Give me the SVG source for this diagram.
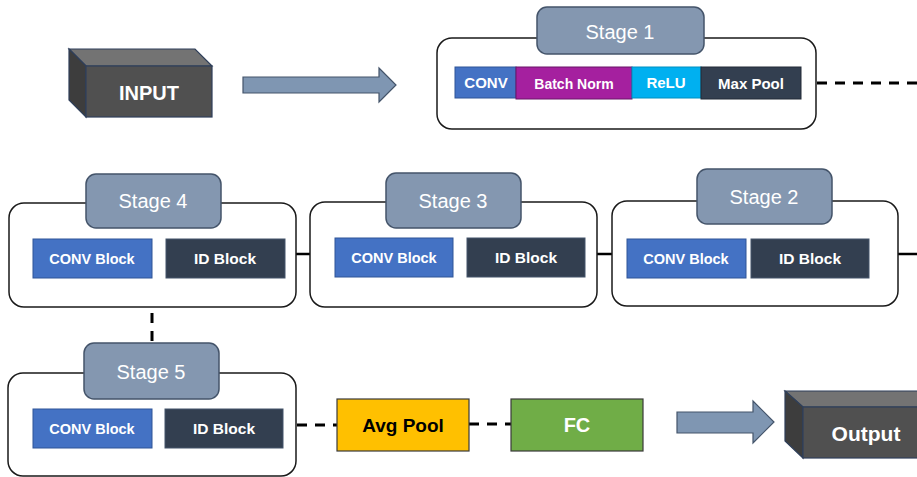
<svg xmlns="http://www.w3.org/2000/svg" width="917" height="477" viewBox="0 0 917 477">
<style>
.stage{fill:#fff;stroke:#1a1a1a;stroke-width:1.5}
.lbl{fill:#8497b0;stroke:#44546a;stroke-width:1.5}
.lt{font-family:"Liberation Sans",Arial,sans-serif;font-size:20px;fill:#fff;text-anchor:middle}
.bt{font-family:"Liberation Sans",Arial,sans-serif;font-weight:bold;fill:#fff;text-anchor:middle}
.conv{fill:#4472c4;stroke:#2f5597;stroke-width:1}
.id{fill:#333f50;stroke:#44546a;stroke-width:1}
.dash{stroke:#000;stroke-width:3;stroke-dasharray:10 8;fill:none}
.solid{stroke:#000;stroke-width:2.5;fill:none}
.arrow{fill:#7f96b2;stroke:#44546a;stroke-width:1.2}
.cf{fill:#505050;stroke:#2f3f5a;stroke-width:1.2}
.ct{fill:#737373;stroke:#2f3f5a;stroke-width:1.2}
.cs{fill:#3d3d3d;stroke:#2f3f5a;stroke-width:1.2}
</style>

<g id="connectors">
  <polygon class="arrow" points="243,77 379,77 379,68 396,85 379,102 379,93 243,93"/>
  <line class="dash" x1="817" y1="83" x2="917" y2="83"/>
  <line class="solid" x1="898" y1="254" x2="917" y2="254"/>
  <line class="solid" x1="597" y1="254" x2="612" y2="254"/>
  <line class="solid" x1="296" y1="254" x2="310" y2="254"/>
  <line class="dash" x1="152" y1="313" x2="152" y2="343" stroke-dasharray="10 10"/>
  <line class="dash" x1="297" y1="425" x2="337" y2="425" stroke-dasharray="10 9"/>
  <line class="dash" x1="469" y1="424" x2="511" y2="424" stroke-dasharray="12 10"/>
  <polygon class="arrow" points="677,412 753,412 753,401 774,422 753,443 753,433 677,433"/>
</g>

<g id="input">
  <polygon class="ct" points="69,49 195,49 212,66 86,66"/>
  <polygon class="cs" points="69,49 86,66 86,117 69,100"/>
  <rect class="cf" x="86" y="66" width="126" height="51"/>
  <text class="bt" x="149" y="100" font-size="20">INPUT</text>
</g>

<g id="stage1">
  <rect class="stage" x="437" y="38" width="379" height="91" rx="15"/>
  <rect class="lbl" x="537" y="7" width="167" height="47" rx="10"/>
  <text class="lt" x="620" y="39">Stage 1</text>
  <rect x="455" y="67" width="61" height="31" fill="#4472c4" stroke="#2f5597"/>
  <text class="bt" x="486" y="88" font-size="15">CONV</text>
  <rect x="516" y="67" width="116" height="32" fill="#a5209f" stroke="#6b1468"/>
  <text class="bt" x="574" y="89" font-size="14">Batch Norm</text>
  <rect x="632" y="67" width="69" height="31" fill="#00b0f0" stroke="#0090c0"/>
  <text class="bt" x="666" y="88" font-size="15">ReLU</text>
  <rect x="701" y="67" width="100" height="32" fill="#333f50" stroke="#222a36"/>
  <text class="bt" x="751" y="89" font-size="15">Max Pool</text>
</g>

<g id="stage2">
  <rect class="stage" x="612" y="201" width="286" height="105" rx="15"/>
  <rect class="lbl" x="697" y="169" width="135" height="55" rx="10"/>
  <text class="lt" x="764" y="204">Stage 2</text>
  <rect class="conv" x="627" y="239" width="119" height="39"/>
  <text class="bt" x="686" y="264" font-size="14.5">CONV Block</text>
  <rect class="id" x="751" y="239" width="118" height="39"/>
  <text class="bt" x="810" y="264" font-size="15.5">ID Block</text>
</g>

<g id="stage3">
  <rect class="stage" x="310" y="202" width="287" height="105" rx="15"/>
  <rect class="lbl" x="386" y="173" width="135" height="55" rx="10"/>
  <text class="lt" x="453" y="208">Stage 3</text>
  <rect class="conv" x="335" y="238" width="118" height="39"/>
  <text class="bt" x="394" y="263" font-size="14.5">CONV Block</text>
  <rect class="id" x="467" y="238" width="118" height="39"/>
  <text class="bt" x="526" y="263" font-size="15.5">ID Block</text>
</g>

<g id="stage4">
  <rect class="stage" x="9" y="203" width="287" height="104" rx="15"/>
  <rect class="lbl" x="86" y="174" width="135" height="54" rx="10"/>
  <text class="lt" x="153" y="208">Stage 4</text>
  <rect class="conv" x="33" y="239" width="119" height="39"/>
  <text class="bt" x="92" y="264" font-size="14.5">CONV Block</text>
  <rect class="id" x="166" y="239" width="119" height="39"/>
  <text class="bt" x="225" y="264" font-size="15.5">ID Block</text>
</g>

<g id="stage5">
  <rect class="stage" x="8" y="373" width="288" height="103" rx="15"/>
  <rect class="lbl" x="84" y="343" width="135" height="56" rx="10"/>
  <text class="lt" x="151" y="379">Stage 5</text>
  <rect class="conv" x="33" y="409" width="119" height="39"/>
  <text class="bt" x="92" y="434" font-size="14.5">CONV Block</text>
  <rect class="id" x="165" y="409" width="118" height="39"/>
  <text class="bt" x="224" y="434" font-size="15.5">ID Block</text>
</g>

<g id="avgpool">
  <rect x="337" y="399" width="132" height="52" fill="#ffc000" stroke="#3a3a3a" stroke-width="1.2"/>
  <text class="bt" x="403" y="432" font-size="19" fill="#000" style="fill:#000">Avg Pool</text>
</g>

<g id="fc">
  <rect x="511" y="399" width="132" height="52" fill="#70ad47" stroke="#3a3a3a" stroke-width="1.2"/>
  <text class="bt" x="577" y="432" font-size="20">FC</text>
</g>

<g id="output">
  <polygon class="ct" points="785,391 930,391 947,407 803,407"/>
  <polygon class="cs" points="785,391 803,407 803,458 785,441"/>
  <rect class="cf" x="803" y="407" width="130" height="51"/>
  <text class="bt" x="866" y="441" font-size="21">Output</text>
</g>
</svg>
